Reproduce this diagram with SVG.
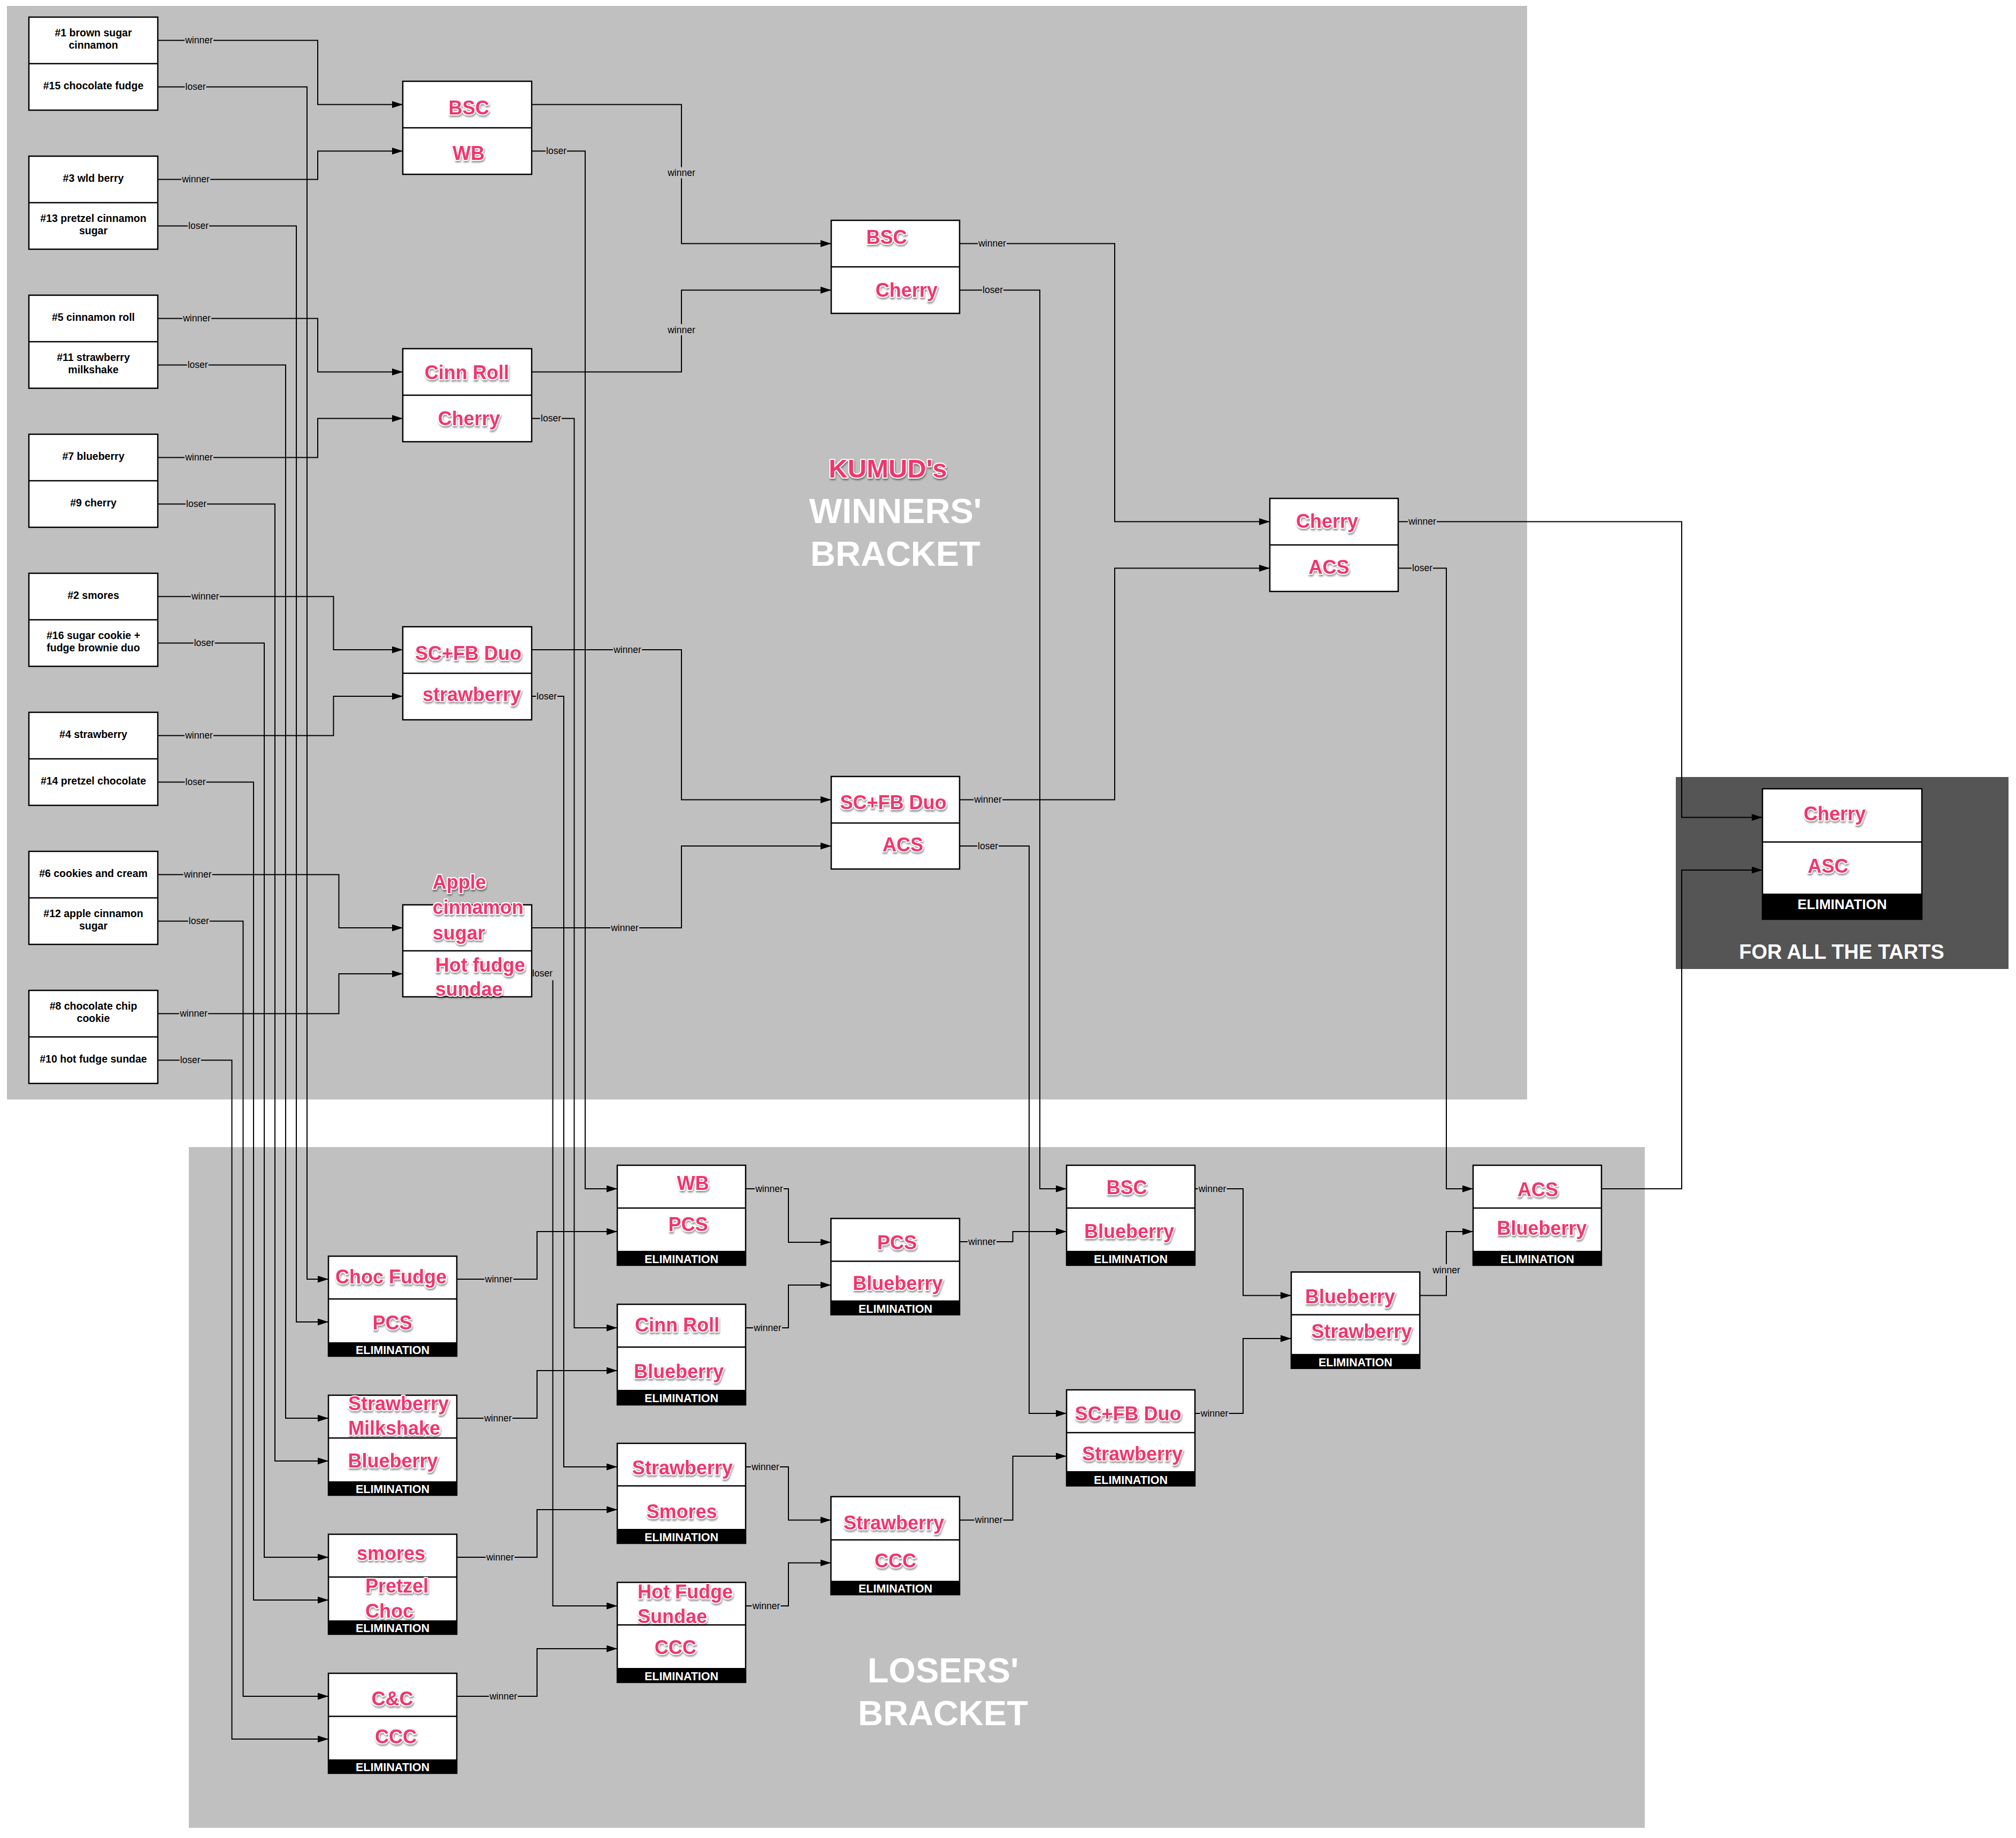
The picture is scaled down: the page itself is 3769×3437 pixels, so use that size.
<svg xmlns="http://www.w3.org/2000/svg" width="3769" height="3437" viewBox="0 0 3769 3437">
<defs>
<style>
.bg{fill:#c0c0c0}
.dk{fill:#555555}
.box{fill:#fff;stroke:#000;stroke-width:2.5}
.dv{stroke:#000;stroke-width:2.5;fill:none}
.bar{fill:#000}
.sd{font-family:"Liberation Sans",Arial,sans-serif;font-weight:bold;font-size:19.5px;fill:#000;text-anchor:middle}
.pk{font-family:"Liberation Sans",Arial,sans-serif;font-weight:bold;font-size:36px;fill:#f2346d;stroke:#fff;stroke-width:4px;stroke-linejoin:round;paint-order:stroke;filter:url(#sh)}
.m{text-anchor:middle}
.el{font-family:"Liberation Sans",Arial,sans-serif;font-weight:bold;font-size:21.5px;fill:#fff;text-anchor:middle}
.c{fill:none;stroke:#000;stroke-width:2}
.a{marker-end:url(#ah)}
.lr{fill:#c0c0c0}
.lt{font-family:"Liberation Sans",Arial,sans-serif;font-size:17.5px;fill:#000;text-anchor:middle}
.ttl{font-family:"Liberation Sans",Arial,sans-serif;font-weight:bold;font-size:65px;fill:#fff;text-anchor:middle}
</style>
<marker id="ah" markerUnits="userSpaceOnUse" markerWidth="20" markerHeight="13" refX="20" refY="6.5" orient="auto"><path d="M0,0 L20,6.5 L0,13 z" fill="#000"/></marker>
<filter id="sh" x="-10%" y="-30%" width="120%" height="170%"><feDropShadow dx="1" dy="3" stdDeviation="1.5" flood-color="#000" flood-opacity="0.4"/></filter>
</defs>
<rect x="0" y="0" width="3769" height="3437" fill="#fff"/>
<g id="panels">
<rect class="bg" x="13" y="11" width="2842" height="2045"/>
<rect class="bg" x="353" y="2145" width="2722" height="1273"/>
<rect class="dk" x="3133" y="1453" width="622" height="359"/>
</g>
<g id="titles">
<text class="pk m" x="1660" y="893" style="font-size:49px">KUMUD's</text>
<text class="ttl" x="1674" y="978">WINNERS'</text>
<text class="ttl" x="1674" y="1058">BRACKET</text>
<text class="ttl" x="1763" y="3146">LOSERS'</text>
<text class="ttl" x="1763" y="3226">BRACKET</text>
<text class="ttl" x="3443" y="1793" style="font-size:38px">FOR ALL THE TARTS</text>
</g>
<g id="connectors">
<path class="c a" d="M295,75.5 H594 V195.5 H753"/>
<path class="c a" d="M295,335.5 H594 V282.5 H753"/>
<path class="c a" d="M295,595.5 H594 V695.5 H753"/>
<path class="c a" d="M295,855.5 H594 V782.5 H753"/>
<path class="c a" d="M295,1115.5 H623.5 V1215 H753"/>
<path class="c a" d="M295,1375.5 H623.5 V1302 H753"/>
<path class="c a" d="M295,1635.5 H633.5 V1735 H753"/>
<path class="c a" d="M295,1895.5 H633.5 V1821 H753"/>
<path class="c a" d="M295,162.5 H574 V2392 H614"/>
<path class="c a" d="M295,422.5 H554 V2472 H614"/>
<path class="c a" d="M295,682.5 H534 V2652 H614"/>
<path class="c a" d="M295,942.5 H514 V2732 H614"/>
<path class="c a" d="M295,1202.5 H494 V2912 H614"/>
<path class="c a" d="M295,1462.5 H474 V2992 H614"/>
<path class="c a" d="M295,1722.5 H454.5 V3172 H614"/>
<path class="c a" d="M295,1982.5 H433.5 V3252 H614"/>
<path class="c a" d="M994,195.5 H1274 V455.5 H1554"/>
<path class="c a" d="M994,695.5 H1274 V542.5 H1554"/>
<path class="c a" d="M994,1215 H1274 V1495.5 H1554"/>
<path class="c a" d="M994,1735 H1274 V1582 H1554"/>
<path class="c a" d="M994,282.5 H1094 V2223 H1154"/>
<path class="c a" d="M994,782.5 H1073.5 V2483 H1154"/>
<path class="c a" d="M994,1302 H1054 V2743 H1154"/>
<path class="c a" d="M994,1821 H1033.5 V3003 H1154"/>
<path class="c a" d="M1794,455.5 H2084 V975.5 H2374"/>
<path class="c a" d="M1794,542.5 H1944 V2223 H1994"/>
<path class="c a" d="M1794,1495.5 H2084 V1062.5 H2374"/>
<path class="c a" d="M1794,1582 H1924 V2643 H1994"/>
<path class="c a" d="M2614,975.5 H3144 V1528.5 H3295"/>
<path class="c a" d="M2614,1062.5 H2704 V2223 H2754"/>
<path class="c a" d="M854,2392 H1004 V2303 H1154"/>
<path class="c a" d="M854,2652 H1004 V2563 H1154"/>
<path class="c a" d="M854,2912 H1004 V2823 H1154"/>
<path class="c a" d="M854,3172 H1004 V3083 H1154"/>
<path class="c a" d="M1394,2223 H1474 V2323 H1553.5"/>
<path class="c a" d="M1394,2483 H1474 V2403 H1553.5"/>
<path class="c a" d="M1394,2743 H1474 V2842.5 H1553.5"/>
<path class="c a" d="M1394,3003 H1474 V2922.5 H1553.5"/>
<path class="c a" d="M1794,2322 H1893.5 V2303 H1994"/>
<path class="c a" d="M1794,2842.5 H1893.5 V2723 H1994"/>
<path class="c a" d="M2234,2223 H2324 V2422.5 H2414"/>
<path class="c a" d="M2234,2643 H2324 V2503 H2414"/>
<path class="c a" d="M2654,2422.5 H2704 V2303 H2754"/>
<path class="c a" d="M2994,2223 H3144 V1627 H3295"/>
<g id="labels">
<rect class="lr" x="345" y="65.5" width="54" height="20"/><text class="lt" x="372" y="81">winner</text>
<rect class="lr" x="339" y="325.5" width="54" height="20"/><text class="lt" x="366" y="341">winner</text>
<rect class="lr" x="341" y="585.5" width="54" height="20"/><text class="lt" x="368" y="601">winner</text>
<rect class="lr" x="345" y="845.5" width="54" height="20"/><text class="lt" x="372" y="861">winner</text>
<rect class="lr" x="356.7" y="1105.5" width="54" height="20"/><text class="lt" x="383.7" y="1121">winner</text>
<rect class="lr" x="345" y="1365.5" width="54" height="20"/><text class="lt" x="372" y="1381">winner</text>
<rect class="lr" x="342.7" y="1625.5" width="54" height="20"/><text class="lt" x="369.7" y="1641">winner</text>
<rect class="lr" x="335" y="1885.5" width="54" height="20"/><text class="lt" x="362" y="1901">winner</text>
<rect class="lr" x="345.5" y="152.5" width="40" height="20"/><text class="lt" x="365.5" y="168">loser</text>
<rect class="lr" x="351" y="412.5" width="40" height="20"/><text class="lt" x="371" y="428">loser</text>
<rect class="lr" x="349.7" y="672.5" width="40" height="20"/><text class="lt" x="369.7" y="688">loser</text>
<rect class="lr" x="347" y="932.5" width="40" height="20"/><text class="lt" x="367" y="948">loser</text>
<rect class="lr" x="361.6" y="1192.5" width="40" height="20"/><text class="lt" x="381.6" y="1208">loser</text>
<rect class="lr" x="345.5" y="1452.5" width="40" height="20"/><text class="lt" x="365.5" y="1468">loser</text>
<rect class="lr" x="351.8" y="1712.5" width="40" height="20"/><text class="lt" x="371.8" y="1728">loser</text>
<rect class="lr" x="335.7" y="1972.5" width="40" height="20"/><text class="lt" x="355.7" y="1988">loser</text>
<rect class="lr" x="1247" y="312.5" width="54" height="21"/><text class="lt" x="1274" y="329">winner</text>
<rect class="lr" x="1247" y="606" width="54" height="21"/><text class="lt" x="1274" y="622.5">winner</text>
<rect class="lr" x="1146" y="1205" width="54" height="20"/><text class="lt" x="1173" y="1220.5">winner</text>
<rect class="lr" x="1141" y="1725" width="54" height="20"/><text class="lt" x="1168" y="1740.5">winner</text>
<rect class="lr" x="1020" y="272.5" width="40" height="20"/><text class="lt" x="1040" y="288">loser</text>
<rect class="lr" x="1010" y="772.5" width="40" height="20"/><text class="lt" x="1030" y="788">loser</text>
<rect class="lr" x="1002" y="1292" width="40" height="20"/><text class="lt" x="1022" y="1307.5">loser</text>
<rect class="lr" x="993" y="1809" width="43" height="24"/><text class="lt" x="1014" y="1826">loser</text>
<rect class="lr" x="1828" y="445.5" width="54" height="20"/><text class="lt" x="1855" y="461">winner</text>
<rect class="lr" x="1836" y="532.5" width="40" height="20"/><text class="lt" x="1856" y="548">loser</text>
<rect class="lr" x="1820" y="1485.5" width="54" height="20"/><text class="lt" x="1847" y="1501">winner</text>
<rect class="lr" x="1827" y="1572" width="40" height="20"/><text class="lt" x="1847" y="1587.5">loser</text>
<rect class="lr" x="2632" y="965.5" width="54" height="20"/><text class="lt" x="2659" y="981">winner</text>
<rect class="lr" x="2639" y="1052.5" width="40" height="20"/><text class="lt" x="2659" y="1068">loser</text>
<rect class="lr" x="905.6" y="2382" width="54" height="20"/><text class="lt" x="932.6" y="2397.5">winner</text>
<rect class="lr" x="904" y="2642" width="54" height="20"/><text class="lt" x="931" y="2657.5">winner</text>
<rect class="lr" x="908" y="2902" width="54" height="20"/><text class="lt" x="935" y="2917.5">winner</text>
<rect class="lr" x="914" y="3162" width="54" height="20"/><text class="lt" x="941" y="3177.5">winner</text>
<rect class="lr" x="1411" y="2213" width="54" height="20"/><text class="lt" x="1438" y="2228.5">winner</text>
<rect class="lr" x="1408" y="2473" width="54" height="20"/><text class="lt" x="1435" y="2488.5">winner</text>
<rect class="lr" x="1404" y="2733" width="54" height="20"/><text class="lt" x="1431" y="2748.5">winner</text>
<rect class="lr" x="1405.5" y="2993" width="54" height="20"/><text class="lt" x="1432.5" y="3008.5">winner</text>
<rect class="lr" x="1809" y="2312" width="54" height="20"/><text class="lt" x="1836" y="2327.5">winner</text>
<rect class="lr" x="1821.6" y="2832.5" width="54" height="20"/><text class="lt" x="1848.6" y="2848">winner</text>
<rect class="lr" x="2239.5" y="2213" width="54" height="20"/><text class="lt" x="2266.5" y="2228.5">winner</text>
<rect class="lr" x="2243.6" y="2633" width="54" height="20"/><text class="lt" x="2270.6" y="2648.5">winner</text>
<rect class="lr" x="2677" y="2364" width="54" height="21"/><text class="lt" x="2704" y="2380.5">winner</text>
</g>
</g>
<g id="seed-1-15">
<rect class="box" x="54" y="32" width="241" height="174"/><line class="dv" x1="54" y1="119" x2="295" y2="119"/>
<text class="sd" x="174.5" y="67.75">#1 brown sugar</text><text class="sd" x="174.5" y="91.25">cinnamon</text>
<text class="sd" x="174.5" y="166.5">#15 chocolate fudge</text>
</g>
<g id="seed-3-13">
<rect class="box" x="54" y="292" width="241" height="174"/><line class="dv" x1="54" y1="379" x2="295" y2="379"/>
<text class="sd" x="174.5" y="339.5">#3 wld berry</text>
<text class="sd" x="174.5" y="414.75">#13 pretzel cinnamon</text><text class="sd" x="174.5" y="438.25">sugar</text>
</g>
<g id="seed-5-11">
<rect class="box" x="54" y="552" width="241" height="174"/><line class="dv" x1="54" y1="639" x2="295" y2="639"/>
<text class="sd" x="174.5" y="599.5">#5 cinnamon roll</text>
<text class="sd" x="174.5" y="674.75">#11 strawberry</text><text class="sd" x="174.5" y="698.25">milkshake</text>
</g>
<g id="seed-7-9">
<rect class="box" x="54" y="812" width="241" height="174"/><line class="dv" x1="54" y1="899" x2="295" y2="899"/>
<text class="sd" x="174.5" y="859.5">#7 blueberry</text>
<text class="sd" x="174.5" y="946.5">#9 cherry</text>
</g>
<g id="seed-2-16">
<rect class="box" x="54" y="1072" width="241" height="174"/><line class="dv" x1="54" y1="1159" x2="295" y2="1159"/>
<text class="sd" x="174.5" y="1119.5">#2 smores</text>
<text class="sd" x="174.5" y="1194.75">#16 sugar cookie +</text><text class="sd" x="174.5" y="1218.25">fudge brownie duo</text>
</g>
<g id="seed-4-14">
<rect class="box" x="54" y="1332" width="241" height="174"/><line class="dv" x1="54" y1="1419" x2="295" y2="1419"/>
<text class="sd" x="174.5" y="1379.5">#4 strawberry</text>
<text class="sd" x="174.5" y="1466.5">#14 pretzel chocolate</text>
</g>
<g id="seed-6-12">
<rect class="box" x="54" y="1592" width="241" height="174"/><line class="dv" x1="54" y1="1679" x2="295" y2="1679"/>
<text class="sd" x="174.5" y="1639.5">#6 cookies and cream</text>
<text class="sd" x="174.5" y="1714.75">#12 apple cinnamon</text><text class="sd" x="174.5" y="1738.25">sugar</text>
</g>
<g id="seed-8-10">
<rect class="box" x="54" y="1852" width="241" height="174"/><line class="dv" x1="54" y1="1939" x2="295" y2="1939"/>
<text class="sd" x="174.5" y="1887.75">#8 chocolate chip</text><text class="sd" x="174.5" y="1911.25">cookie</text>
<text class="sd" x="174.5" y="1986.5">#10 hot fudge sundae</text>
</g>
<g id="w1-bsc-wb">
<rect class="box" x="753" y="152" width="241" height="174"/><line class="dv" x1="753" y1="239" x2="994" y2="239"/>
<text class="pk m" x="876.5" y="213.5">BSC</text><text class="pk m" x="876" y="298.5">WB</text>
</g>
<g id="w1-cinn-cherry">
<rect class="box" x="753" y="652" width="241" height="174"/><line class="dv" x1="753" y1="739" x2="994" y2="739"/>
<text class="pk m" x="872.7" y="709">Cinn Roll</text><text class="pk m" x="876.8" y="795">Cherry</text>
</g>
<g id="w1-scfb-strawberry">
<rect class="box" x="753" y="1172" width="241" height="174"/><line class="dv" x1="753" y1="1259" x2="994" y2="1259"/>
<text class="pk m" x="875.5" y="1234.4">SC+FB Duo</text><text class="pk m" x="882" y="1311">strawberry</text>
</g>
<g id="w1-apple-hotfudge">
<rect class="box" x="753" y="1692" width="241" height="172"/><line class="dv" x1="753" y1="1778" x2="994" y2="1778"/>
<text class="pk" x="808.8" y="1662">Apple</text><text class="pk" x="808.8" y="1709">cinnamon</text><text class="pk" x="808.8" y="1757">sugar</text>
<text class="pk" x="813.7" y="1817">Hot fudge</text><text class="pk" x="813.7" y="1862">sundae</text>
</g>
<g id="w2-bsc-cherry">
<rect class="box" x="1554" y="412" width="240" height="174"/><line class="dv" x1="1554" y1="499" x2="1794" y2="499"/>
<text class="pk m" x="1657.5" y="456">BSC</text><text class="pk m" x="1694.7" y="555">Cherry</text>
</g>
<g id="w2-scfb-acs">
<rect class="box" x="1554" y="1452" width="240" height="173"/><line class="dv" x1="1554" y1="1539" x2="1794" y2="1539"/>
<text class="pk m" x="1670" y="1513">SC+FB Duo</text><text class="pk m" x="1688" y="1591.6">ACS</text>
</g>
<g id="w3-cherry-acs">
<rect class="box" x="2374" y="932" width="240" height="174"/><line class="dv" x1="2374" y1="1019" x2="2614" y2="1019"/>
<text class="pk m" x="2481" y="987">Cherry</text><text class="pk m" x="2484.5" y="1073">ACS</text>
</g>
<g id="final-cherry-asc">
<rect class="box" x="3295" y="1475" width="298" height="244"/><line class="dv" x1="3295" y1="1574.5" x2="3593" y2="1574.5"/>
<rect class="bar" x="3295" y="1671" width="298" height="48"/>
<text class="pk m" x="3430" y="1533.7">Cherry</text><text class="pk m" x="3417.5" y="1632">ASC</text>
<text class="el" x="3444" y="1700" style="font-size:26px">ELIMINATION</text>
</g>
<g id="l1-chocfudge-pcs">
<rect class="box" x="614" y="2349" width="240" height="187"/><line class="dv" x1="614" y1="2429" x2="854" y2="2429"/>
<rect class="bar" x="614" y="2510" width="240" height="26"/>
<text class="pk m" x="731" y="2400">Choc Fudge</text><text class="pk m" x="733.5" y="2486">PCS</text>
<text class="el" x="734" y="2532">ELIMINATION</text>
</g>
<g id="l1-milkshake-blueberry">
<rect class="box" x="614" y="2609" width="240" height="187"/><line class="dv" x1="614" y1="2689" x2="854" y2="2689"/>
<rect class="bar" x="614" y="2770" width="240" height="26"/>
<text class="pk" x="651" y="2637">Strawberry</text><text class="pk" x="651" y="2683.4">Milkshake</text>
<text class="pk m" x="734.5" y="2744">Blueberry</text>
<text class="el" x="734" y="2792">ELIMINATION</text>
</g>
<g id="l1-smores-pretzelchoc">
<rect class="box" x="614" y="2869" width="240" height="187"/><line class="dv" x1="614" y1="2949" x2="854" y2="2949"/>
<rect class="bar" x="614" y="3030" width="240" height="26"/>
<text class="pk m" x="731" y="2916.6">smores</text>
<text class="pk" x="683" y="2978">Pretzel</text><text class="pk" x="683" y="3025">Choc</text>
<text class="el" x="734" y="3052">ELIMINATION</text>
</g>
<g id="l1-cc-ccc">
<rect class="box" x="614" y="3129" width="240" height="187"/><line class="dv" x1="614" y1="3209.5" x2="854" y2="3209.5"/>
<rect class="bar" x="614" y="3290" width="240" height="26"/>
<text class="pk m" x="733.6" y="3188.5">C&amp;C</text><text class="pk m" x="740" y="3260">CCC</text>
<text class="el" x="734" y="3312">ELIMINATION</text>
</g>
<g id="l2-wb-pcs">
<rect class="box" x="1154" y="2179" width="240" height="187"/><line class="dv" x1="1154" y1="2259" x2="1394" y2="2259"/>
<rect class="bar" x="1154" y="2339" width="240" height="27"/>
<text class="pk m" x="1295.5" y="2224.6">WB</text><text class="pk m" x="1286.6" y="2302">PCS</text>
<text class="el" x="1274" y="2362">ELIMINATION</text>
</g>
<g id="l2-cinn-blueberry">
<rect class="box" x="1154" y="2439" width="240" height="188"/><line class="dv" x1="1154" y1="2519" x2="1394" y2="2519"/>
<rect class="bar" x="1154" y="2599" width="240" height="28"/>
<text class="pk m" x="1266" y="2489.8">Cinn Roll</text><text class="pk m" x="1269" y="2576.5">Blueberry</text>
<text class="el" x="1274" y="2622">ELIMINATION</text>
</g>
<g id="l2-strawberry-smores">
<rect class="box" x="1154" y="2699" width="240" height="187"/><line class="dv" x1="1154" y1="2778.5" x2="1394" y2="2778.5"/>
<rect class="bar" x="1154" y="2859" width="240" height="27"/>
<text class="pk m" x="1275.7" y="2756.6">Strawberry</text><text class="pk m" x="1274.5" y="2839">Smores</text>
<text class="el" x="1274" y="2882">ELIMINATION</text>
</g>
<g id="l2-hotfudge-ccc">
<rect class="box" x="1154" y="2959" width="240" height="187"/><line class="dv" x1="1154" y1="3038.6" x2="1394" y2="3038.6"/>
<rect class="bar" x="1154" y="3119" width="240" height="27"/>
<text class="pk" x="1192" y="2989">Hot Fudge</text><text class="pk" x="1192" y="3035">Sundae</text>
<text class="pk m" x="1262.8" y="3093">CCC</text>
<text class="el" x="1274" y="3142">ELIMINATION</text>
</g>
<g id="l3-pcs-blueberry">
<rect class="box" x="1553.5" y="2278.5" width="240.5" height="180"/><line class="dv" x1="1553.5" y1="2358.4" x2="1794" y2="2358.4"/>
<rect class="bar" x="1553.5" y="2431.7" width="240.5" height="27"/>
<text class="pk m" x="1677" y="2335.7">PCS</text><text class="pk m" x="1678.4" y="2411.5">Blueberry</text>
<text class="el" x="1674" y="2455">ELIMINATION</text>
</g>
<g id="l3-strawberry-ccc">
<rect class="box" x="1553.5" y="2798.7" width="240.5" height="183.3"/><line class="dv" x1="1553.5" y1="2879.5" x2="1794" y2="2879.5"/>
<rect class="bar" x="1553.5" y="2956" width="240.5" height="26"/>
<text class="pk m" x="1671" y="2860">Strawberry</text><text class="pk m" x="1674" y="2931">CCC</text>
<text class="el" x="1674" y="2978">ELIMINATION</text>
</g>
<g id="l4-bsc-blueberry">
<rect class="box" x="1994" y="2179" width="240" height="187"/><line class="dv" x1="1994" y1="2259" x2="2234" y2="2259"/>
<rect class="bar" x="1994" y="2339" width="240" height="27"/>
<text class="pk m" x="2106.5" y="2233">BSC</text><text class="pk m" x="2111" y="2314.7">Blueberry</text>
<text class="el" x="2114" y="2362">ELIMINATION</text>
</g>
<g id="l4-scfb-strawberry">
<rect class="box" x="1994" y="2599" width="240" height="179.5"/><line class="dv" x1="1994" y1="2679" x2="2234" y2="2679"/>
<rect class="bar" x="1994" y="2751" width="240" height="27.5"/>
<text class="pk m" x="2109" y="2655.6">SC+FB Duo</text><text class="pk m" x="2117" y="2731">Strawberry</text>
<text class="el" x="2114" y="2774.5">ELIMINATION</text>
</g>
<g id="l5-blueberry-strawberry">
<rect class="box" x="2414" y="2378.6" width="240.4" height="180.2"/><line class="dv" x1="2414" y1="2458.6" x2="2654.4" y2="2458.6"/>
<rect class="bar" x="2414" y="2531.8" width="240.4" height="27"/>
<text class="pk m" x="2524" y="2436.7">Blueberry</text><text class="pk m" x="2545.5" y="2502.4">Strawberry</text>
<text class="el" x="2534" y="2554.5">ELIMINATION</text>
</g>
<g id="l6-acs-blueberry">
<rect class="box" x="2754" y="2179" width="240" height="187"/><line class="dv" x1="2754" y1="2259" x2="2994" y2="2259"/>
<rect class="bar" x="2754" y="2339" width="240" height="27"/>
<text class="pk m" x="2875" y="2237">ACS</text><text class="pk m" x="2882.5" y="2308.8">Blueberry</text>
<text class="el" x="2874" y="2362">ELIMINATION</text>
</g>
</svg>
